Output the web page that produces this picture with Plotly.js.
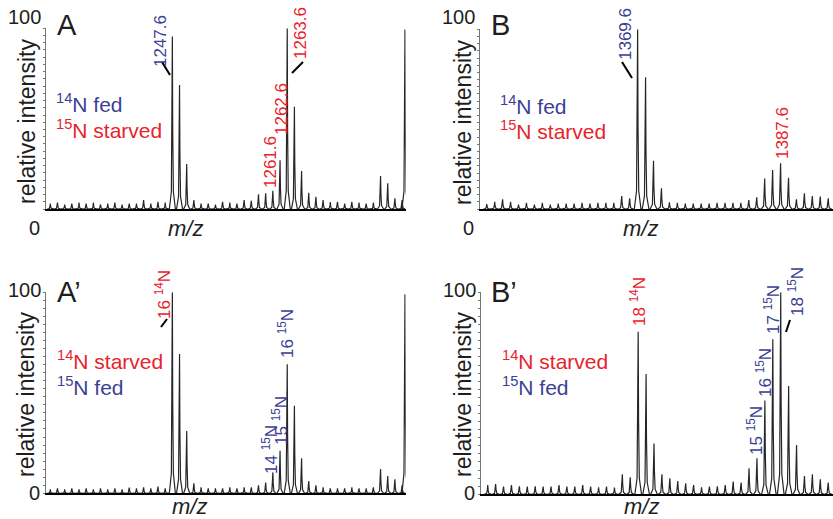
<!DOCTYPE html>
<html><head><meta charset="utf-8">
<script src="https://cdn.plot.ly/plotly-3.0.1.min.js"></script>
<style>html,body{margin:0;padding:0;background:#fff;}#chart{width:833px;height:519px;}</style>
</head><body><div id="chart"></div>
<script>
// ---------- DATA ----------
// Panels A and A': isotope peaks at 1230.6, 1231.6, ... 1279.6 (1 Da apart)
const mzStartA = 1230.6;
const intensityA = [3, 3.5, 2.5, 3, 3.5, 3, 3.5, 2.5, 3, 3.5, 2.5, 3, 3, 5, 3, 4, 3.5,
  95.4, 68.6, 24.9, 5, 3, 3, 2.5, 4, 3.5, 3, 5, 4.6, 8.1, 8.7, 10.1, 27, 100, 56.6, 21,
  9, 6.8, 5, 3.8, 4, 3, 4, 3.5, 3, 3.5, 18.3, 14.2, 5.9, 5];
const intensityA2 = [2, 2.5, 2, 2.5, 2, 2.5, 2, 2.5, 2, 2.5, 2, 2.8, 2.5, 3, 2.5, 3.3, 2.5,
  100, 69.3, 31, 5, 3, 2.5, 2.5, 2.5, 3, 2.5, 3, 3, 4, 5.3, 10.4, 21.2, 64.2, 43.6, 17.4,
  6.1, 4, 3, 2.5, 2.5, 2.5, 3, 2.5, 2.5, 3, 12.1, 8.6, 7, 4];
const edgeMzA = 1280.0;          // peak cut by the right edge of A / A'
const edgeIntensityA = 99.4;
const edgeIntensityA2 = 99;
// Panels B and B': isotope peaks at 1350.6, 1351.6, ... 1393.6
const mzStartB = 1350.6;
const intensityB = [2.8, 4, 5.4, 4, 2.5, 3.5, 2.5, 3.5, 2.5, 3, 3, 3, 3.5, 3, 3.5, 3.5, 3.5,
  7.2, 6, 100, 73.3, 26.9, 11.5, 3.7, 3.5, 3, 3, 3, 3, 3.5, 3.5, 3.5, 3.5, 5, 6.5, 17,
  21.7, 25.4, 17.4, 5.4, 8.7, 7.2, 6.9, 6];
const intensityB2 = [4.6, 5.1, 3.8, 4.6, 4, 3.8, 4, 3.8, 3.8, 4.6, 3.8, 3.8, 4.6, 3.8, 3.5, 3.8, 3.3,
  9.9, 8.4, 80.5, 59.6, 25.2, 9.9, 7.9, 6.6, 5.4, 4.6, 3.5, 3.8, 4, 4.6, 6.3, 5.8, 12.9,
  17.8, 46.4, 76.7, 100, 53.6, 24.4, 9.1, 9.9, 7.4, 5.8];
const rangeA = [1230, 1280.1];
const rangeB = [1349.75, 1394.2];

// ---------- STYLE ----------
const W = 833, H = 519;
const BLUE = '#3b3f96', RED = '#e8232b', INK = '#1e1e1e';
const FONT = 'Liberation Sans, Arial, Helvetica, sans-serif';
// peak profile (shape of one profile-mode peak), offsets in Da and fraction of height
const profDx = [-0.42, -0.14, -0.05, 0, 0.05, 0.14, 0.42];
const profFy = [0, 0.1, 0.45, 1, 0.45, 0.1, 0];

function spectrum(mzStart, vals, extra, xa, ya) {
  const xs = [], ys = [];
  const peaks = vals.map((v, i) => [mzStart + i, v]);
  if (extra) peaks.push(extra);
  peaks.forEach(([m, h]) => {
    profDx.forEach((d, k) => { xs.push(m + d); ys.push(h * profFy[k]); });
  });
  return {x: xs, y: ys, type: 'scatter', mode: 'lines', xaxis: xa, yaxis: ya,
    line: {color: '#262626', width: 1.2}, hoverinfo: 'skip', showlegend: false};
}

const data = [
  spectrum(mzStartA, intensityA, [edgeMzA, edgeIntensityA], 'x', 'y'),
  spectrum(mzStartB, intensityB, null, 'x2', 'y2'),
  spectrum(mzStartA, intensityA2, [edgeMzA, edgeIntensityA2], 'x3', 'y3'),
  spectrum(mzStartB, intensityB2, null, 'x4', 'y4'),
];

const px = v => v / W, py = v => 1 - v / H;
function xax(l, r, range, anchor) {
  return {domain: [px(l), px(r)], range: range, anchor: anchor, showline: true, linecolor: '#000',
    linewidth: 2, showgrid: false, zeroline: false, showticklabels: false, ticks: ''};
}
function yax(top, bottom, anchor) {
  return {domain: [py(bottom), py(top)], range: [0, 100], anchor: anchor, showline: true,
    linecolor: '#777', linewidth: 1, showgrid: false, zeroline: false, showticklabels: false,
    ticks: 'outside', ticklen: 2, tickwidth: 1, tickcolor: '#777', dtick: 4};
}

const ann = [];
function T(text, x, y, o) {
  o = o || {};
  ann.push({xref: 'paper', yref: 'paper', x: px(x), y: py(y), text: text, showarrow: false,
    xanchor: o.xa || 'center', yanchor: 'middle', textangle: o.rot || 0,
    font: {family: FONT, size: o.size || 20, color: o.color || INK}});
}
const shapes = [];
function L(x0, y0, x1, y1) {
  shapes.push({type: 'line', xref: 'paper', yref: 'paper', x0: px(x0), y0: py(y0), x1: px(x1), y1: py(y1),
    line: {color: '#000', width: 2}});
}

// axis end labels, titles, panel letters
[[46, 17, 228, 27, 122, 185, 228], [480, 17, 228, 463, 123, 640, 228],
 [46, 290, 493, 26, 395, 189, 506], [481, 290, 493, 463, 395, 641, 506]].forEach(p => {
  const [ax, y100, y0, tx, ty, mx, my] = p;
  T('100', ax - 3, y100, {xa: 'right', size: 20});
  T('0', ax - 12, y0, {size: 20});
  T('relative intensity', tx, ty, {rot: -90, size: 23});
  T('<i>m/z</i>', mx, my, {size: 22});
});
T('A', 55, 25, {xa: 'left', size: 29});
T('B', 489, 25, {xa: 'left', size: 29});
T('A\u2019', 55, 292, {xa: 'left', size: 29});
T('B\u2019', 489, 292, {xa: 'left', size: 29});

// legends
T('<sup>14</sup>N fed', 54, 103, {xa: 'left', size: 21, color: BLUE});
T('<sup>15</sup>N starved', 54, 129, {xa: 'left', size: 21, color: RED});
T('<sup>14</sup>N fed', 498, 105, {xa: 'left', size: 21, color: BLUE});
T('<sup>15</sup>N starved', 498, 130, {xa: 'left', size: 21, color: RED});
T('<sup>14</sup>N starved', 55, 360, {xa: 'left', size: 21, color: RED});
T('<sup>15</sup>N fed', 55, 386, {xa: 'left', size: 21, color: BLUE});
T('<sup>14</sup>N starved', 500, 360, {xa: 'left', size: 21, color: RED});
T('<sup>15</sup>N fed', 500, 386, {xa: 'left', size: 21, color: BLUE});

// peak labels
const R = -90, S = 17;
T('1247.6', 160, 41, {rot: R, size: S, color: BLUE});
T('1263.6', 300, 33, {rot: R, size: S, color: RED});
T('1262.6', 281, 109, {rot: R, size: S, color: RED});
T('1261.6', 271, 162, {rot: R, size: S, color: RED});
T('1369.6', 625, 34, {rot: R, size: S, color: BLUE});
T('1387.6', 782, 133, {rot: R, size: S, color: RED});
T('16 <sup>14</sup>N', 163, 295, {rot: R, size: S, color: RED});
T('16 <sup>15</sup>N', 286, 334, {rot: R, size: S, color: BLUE});
T('15 <sup>15</sup>N', 280, 421, {rot: R, size: S, color: BLUE});
T('14 <sup>15</sup>N', 270, 450, {rot: R, size: S, color: BLUE});
T('18 <sup>14</sup>N', 638, 302, {rot: R, size: S, color: RED});
T('15 <sup>15</sup>N', 755, 431, {rot: R, size: S, color: BLUE});
T('16 <sup>15</sup>N', 764, 373, {rot: R, size: S, color: BLUE});
T('17 <sup>15</sup>N', 772, 310, {rot: R, size: S, color: BLUE});
T('18 <sup>15</sup>N', 796, 292, {rot: R, size: S, color: BLUE});
// leader lines
L(162, 62, 170, 75);
L(292, 73, 303, 62);
L(622, 62, 632, 78);
L(161, 327, 167, 319);
L(786, 332, 790, 320);

const layout = {
  width: W, height: H, margin: {l: 0, r: 0, t: 0, b: 0}, paper_bgcolor: '#fff', plot_bgcolor: 'rgba(0,0,0,0)',
  showlegend: false,
  xaxis: xax(46, 405.7, rangeA, 'y'), yaxis: yax(28.3, 209, 'x'),
  xaxis2: xax(480, 833, rangeB, 'y2'), yaxis2: yax(29.3, 209, 'x2'),
  xaxis3: xax(46, 405.7, rangeA, 'y3'), yaxis3: yax(292.3, 493.3, 'x3'),
  xaxis4: xax(481, 833, rangeB, 'y4'), yaxis4: yax(292.3, 494.3, 'x4'),
  annotations: ann, shapes: shapes
};
Plotly.newPlot('chart', data, layout, {staticPlot: true});
</script></body></html>
